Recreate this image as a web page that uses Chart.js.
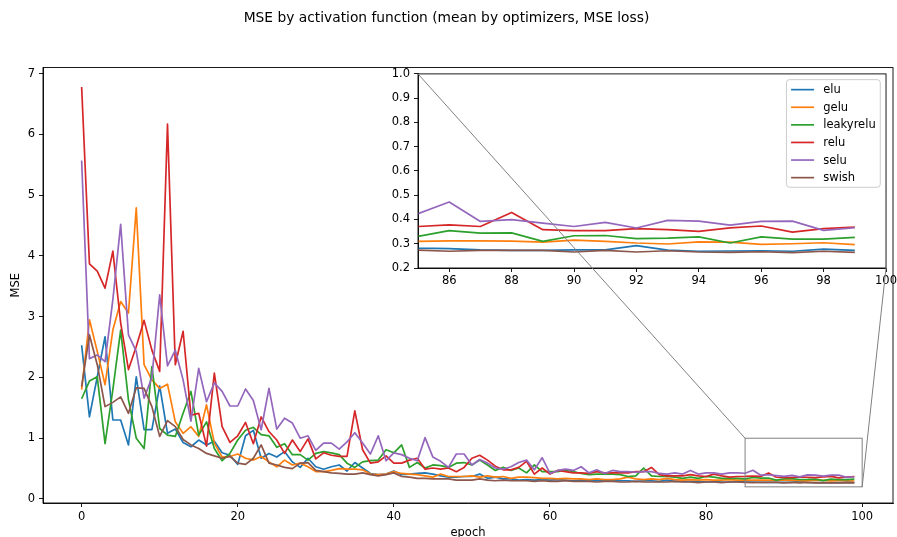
<!DOCTYPE html>
<html>
<head>
<meta charset="utf-8">
<script src="https://cdn.jsdelivr.net/npm/chart.js@4.4.1/dist/chart.umd.min.js"></script>
<style>
  html, body { margin: 0; padding: 0; background: #fff; }
  #wrap { position: relative; width: 897px; height: 537px; overflow: hidden; }
  canvas { position: absolute; }
  #main { left: 0; top: 0; }
  #inset { left: 374px; top: 64px; }
  #overlay { left: 0; top: 0; pointer-events: none; }
</style>
</head>
<body>
<div id="wrap">
  <canvas id="main" width="897" height="537"></canvas>
  <canvas id="inset" width="523" height="230"></canvas>
  <canvas id="overlay" width="897" height="537"></canvas>
</div>
<script>
// Mean MSE per epoch for each activation function (averaged over optimizers)
const epochs = Array.from({ length: 100 }, (_, i) => i);

const names = ['elu', 'gelu', 'leakyrelu', 'relu', 'selu', 'swish'];
const colors = ['#1f77b4', '#ff7f0e', '#2ca02c', '#d62728', '#9467bd', '#8c564b'];

const elu = [
  2.53, 1.35, 2.01, 2.67, 1.30, 1.30, 0.89, 2.01, 1.14, 1.14,
  1.86, 1.08, 1.15, 0.93, 0.86, 0.97, 0.89, 0.95, 0.76, 0.72,
  0.57, 1.04, 1.13, 0.67, 0.75, 0.69, 0.78, 0.61, 0.52, 0.67,
  0.53, 0.49, 0.53, 0.56, 0.46, 0.60, 0.51, 0.42, 0.40, 0.41,
  0.46, 0.40, 0.41, 0.42, 0.43, 0.41, 0.38, 0.36, 0.36, 0.37,
  0.37, 0.41, 0.34, 0.36, 0.33, 0.33, 0.31, 0.32, 0.31, 0.32,
  0.31, 0.32, 0.31, 0.30, 0.31, 0.30, 0.30, 0.31, 0.30, 0.30,
  0.30, 0.29, 0.30, 0.30, 0.29, 0.31, 0.29, 0.29, 0.29, 0.29,
  0.28, 0.29, 0.28, 0.28, 0.29, 0.282, 0.280, 0.275, 0.273, 0.273,
  0.275, 0.275, 0.292, 0.274, 0.269, 0.270, 0.271, 0.269, 0.278, 0.273
];
const gelu = [
  1.80, 2.95, 2.43, 1.88, 2.78, 3.25, 3.06, 4.79, 2.21, 1.96,
  1.82, 1.89, 1.27, 1.08, 1.19, 1.03, 1.55, 0.92, 0.69, 0.70,
  0.74, 0.67, 0.64, 0.70, 0.61, 0.53, 0.64, 0.56, 0.59, 0.53,
  0.45, 0.45, 0.47, 0.50, 0.49, 0.49, 0.48, 0.41, 0.40, 0.41,
  0.45, 0.42, 0.41, 0.40, 0.38, 0.36, 0.41, 0.37, 0.37, 0.37,
  0.38, 0.36, 0.38, 0.36, 0.37, 0.34, 0.36, 0.36, 0.35, 0.34,
  0.34, 0.33, 0.34, 0.33, 0.33, 0.32, 0.33, 0.32, 0.32, 0.33,
  0.36, 0.33, 0.32, 0.33, 0.32, 0.34, 0.32, 0.31, 0.32, 0.31,
  0.32, 0.31, 0.31, 0.32, 0.31, 0.310, 0.312, 0.312, 0.311, 0.307,
  0.315, 0.310, 0.303, 0.299, 0.308, 0.307, 0.297, 0.300, 0.304, 0.296
];
const leakyrelu = [
  1.65, 1.94, 2.01, 0.91, 1.80, 2.78, 1.63, 1.00, 0.83, 2.18,
  1.16, 1.05, 1.03, 1.41, 1.77, 1.05, 1.27, 0.83, 0.63, 0.75,
  0.97, 1.13, 1.18, 1.06, 1.04, 0.85, 0.91, 0.73, 0.73, 0.64,
  0.75, 0.78, 0.76, 0.73, 0.59, 0.52, 0.61, 0.63, 0.64, 0.81,
  0.76, 0.89, 0.52, 0.60, 0.51, 0.56, 0.55, 0.52, 0.59, 0.60,
  0.56, 0.64, 0.56, 0.47, 0.52, 0.47, 0.51, 0.43, 0.56, 0.45,
  0.45, 0.45, 0.48, 0.45, 0.42, 0.40, 0.41, 0.41, 0.41, 0.40,
  0.37, 0.38, 0.51, 0.38, 0.37, 0.37, 0.36, 0.34, 0.36, 0.34,
  0.37, 0.36, 0.34, 0.34, 0.34, 0.330, 0.354, 0.344, 0.345, 0.310,
  0.333, 0.334, 0.321, 0.323, 0.328, 0.303, 0.328, 0.319, 0.319, 0.326
];
const relu = [
  6.78, 3.87, 3.75, 3.47, 4.08, 2.90, 2.13, 2.51, 2.94, 2.45,
  2.10, 6.17, 2.21, 2.76, 1.38, 1.41, 0.87, 2.07, 1.19, 0.93,
  1.04, 1.26, 0.91, 1.35, 1.11, 0.97, 0.75, 0.97, 0.78, 0.99,
  0.66, 0.76, 0.72, 0.70, 0.70, 1.45, 0.81, 0.59, 0.61, 0.71,
  0.59, 0.59, 0.64, 0.67, 0.49, 0.51, 0.49, 0.51, 0.45, 0.52,
  0.67, 0.72, 0.64, 0.54, 0.48, 0.48, 0.52, 0.62, 0.41, 0.51,
  0.41, 0.47, 0.45, 0.43, 0.43, 0.42, 0.45, 0.43, 0.43, 0.43,
  0.43, 0.45, 0.45, 0.52, 0.40, 0.38, 0.38, 0.38, 0.40, 0.38,
  0.37, 0.41, 0.38, 0.36, 0.37, 0.371, 0.378, 0.371, 0.429, 0.358,
  0.354, 0.354, 0.362, 0.358, 0.351, 0.365, 0.373, 0.348, 0.362, 0.369
];
const selu = [
  5.57, 2.31, 2.37, 2.26, 3.28, 4.52, 2.70, 2.43, 1.66, 2.00,
  3.36, 2.19, 2.45, 1.96, 1.28, 2.15, 1.60, 1.91, 1.77, 1.53,
  1.53, 1.81, 1.62, 1.14, 1.82, 1.15, 1.33, 1.25, 1.00, 1.04,
  0.80, 0.92, 0.92, 0.82, 0.94, 1.09, 0.92, 0.74, 1.04, 0.63,
  0.76, 0.73, 0.67, 0.63, 1.01, 0.69, 0.62, 0.52, 0.74, 0.74,
  0.56, 0.65, 0.59, 0.51, 0.49, 0.53, 0.60, 0.64, 0.48, 0.68,
  0.42, 0.47, 0.49, 0.47, 0.53, 0.43, 0.48, 0.42, 0.47, 0.45,
  0.45, 0.44, 0.45, 0.45, 0.42, 0.41, 0.43, 0.41, 0.47, 0.41,
  0.43, 0.43, 0.41, 0.43, 0.43, 0.424, 0.472, 0.392, 0.399, 0.385,
  0.371, 0.388, 0.365, 0.396, 0.393, 0.377, 0.392, 0.393, 0.355, 0.366
];
const swish = [
  1.85, 2.70, 2.21, 1.52, 1.59, 1.68, 1.41, 1.83, 1.82, 1.52,
  1.03, 1.29, 1.19, 0.98, 0.89, 0.83, 0.75, 0.71, 0.67, 0.70,
  0.59, 0.57, 0.67, 0.89, 0.59, 0.56, 0.52, 0.50, 0.59, 0.60,
  0.47, 0.45, 0.43, 0.42, 0.41, 0.41, 0.43, 0.40, 0.38, 0.40,
  0.43, 0.37, 0.36, 0.34, 0.34, 0.33, 0.33, 0.33, 0.31, 0.31,
  0.31, 0.33, 0.31, 0.30, 0.31, 0.30, 0.30, 0.30, 0.29, 0.30,
  0.29, 0.29, 0.30, 0.29, 0.29, 0.29, 0.28, 0.29, 0.29, 0.28,
  0.28, 0.29, 0.28, 0.28, 0.28, 0.28, 0.29, 0.28, 0.28, 0.27,
  0.28, 0.28, 0.27, 0.28, 0.28, 0.274, 0.269, 0.273, 0.273, 0.273,
  0.266, 0.273, 0.266, 0.271, 0.266, 0.264, 0.267, 0.263, 0.269, 0.264
];
const seriesValues = [elu, gelu, leakyrelu, relu, selu, swish];

// Axis ticks
const mainXTicks = [0, 20, 40, 60, 80, 100];
const mainYTicks = [0, 1, 2, 3, 4, 5, 6, 7];
const insetXTicks = [86, 88, 90, 92, 94, 96, 98, 100];
const insetYTicks = [0.2, 0.3, 0.4, 0.5, 0.6, 0.7, 0.8, 0.9, 1.0];
const insetYLabels = ['0.2', '0.3', '0.4', '0.5', '0.6', '0.7', '0.8', '0.9', '1.0'];

// Zoomed window shown in the inset
const zoomX = [85, 100];
const zoomY = [0.2, 1.0];

// Where the inset's plotting area sits on the page
const insetBox = { left: 418, top: 74, right: 886, bottom: 268 };

const FONT = 'DejaVu Sans';
Chart.defaults.font.family = FONT;
Chart.defaults.color = '#000';

function makeDatasets() {
  return names.map((name, i) => ({
    label: name,
    data: epochs.map((e, j) => ({ x: e, y: seriesValues[i][j] })),
    borderColor: colors[i],
    backgroundColor: colors[i],
    borderWidth: 1.7,
    borderJoinStyle: 'round',
    pointRadius: 0,
    tension: 0,
    fill: false,
    order: names.length - i
  }));
}

function axisStyle() {
  return {
    grid: { display: true, drawOnChartArea: false, drawTicks: true, tickLength: 4, color: '#000', lineWidth: 0.9 },
    border: { display: true, color: '#000', width: 0.9 }
  };
}

// Draws the remaining spines around the plotting area
const frame = {
  id: 'frame',
  beforeDraw(chart, args, opts) {
    if (opts.fill) {
      const a = chart.chartArea;
      chart.ctx.save();
      chart.ctx.fillStyle = '#fff';
      chart.ctx.fillRect(a.left, a.top, a.right - a.left, a.bottom - a.top);
      chart.ctx.restore();
    }
  },
  afterDraw(chart) {
    const a = chart.chartArea;
    const ctx = chart.ctx;
    ctx.save();
    ctx.strokeStyle = '#000';
    ctx.lineWidth = 0.9;
    ctx.strokeRect(a.left, a.top, a.right - a.left, a.bottom - a.top);
    ctx.restore();
  }
};

const mainChart = new Chart(document.getElementById('main'), {
  type: 'line',
  data: { datasets: makeDatasets() },
  options: {
    responsive: false,
    maintainAspectRatio: false,
    animation: false,
    devicePixelRatio: 1,
    layout: { padding: { left: 0, right: 4, top: 0, bottom: 0 } },
    plugins: {
      legend: { display: false },
      tooltip: { enabled: false },
      frame: { fill: false },
      title: {
        display: true,
        text: 'MSE by activation function (mean by optimizers, MSE loss)',
        font: { family: FONT, size: 13.8, weight: 'normal' },
        color: '#000',
        padding: { top: 10, bottom: 41 }
      }
    },
    scales: {
      x: Object.assign(axisStyle(), {
        type: 'linear',
        min: -4.95,
        max: 103.95,
        afterBuildTicks: s => { s.ticks = mainXTicks.map(v => ({ value: v })); },
        afterFit: s => { s.height = 34; },
        ticks: { font: { size: 11.5 }, color: '#000', padding: 3, maxRotation: 0, callback: (v, i) => String(mainXTicks[i]) },
        title: { display: true, text: 'epoch', font: { size: 11.5 }, color: '#000', padding: { top: 0, bottom: -3 } }
      }),
      y: Object.assign(axisStyle(), {
        type: 'linear',
        min: -0.066,
        max: 7.1,
        afterBuildTicks: s => { s.ticks = mainYTicks.map(v => ({ value: v })); },
        afterFit: s => { s.width = 43; },
        ticks: { font: { size: 11.5 }, color: '#000', padding: 4, callback: (v, i) => String(mainYTicks[i]) },
        title: { display: true, text: 'MSE', font: { size: 11.5 }, color: '#000', padding: { top: 9, bottom: 0 } }
      })
    }
  },
  plugins: [frame]
});

// Legend drawn inside the inset's upper-right corner
const insetLegend = {
  id: 'insetLegend',
  afterDraw(chart) {
    const ctx = chart.ctx;
    const a = chart.chartArea;
    const fs = 11.5;
    ctx.save();
    ctx.font = fs + 'px "' + FONT + '"';
    const maxW = Math.max(...names.map(n => ctx.measureText(n).width));
    const pad = 0.4 * fs, handle = 2 * fs, gap = 0.8 * fs, rowH = 17.6;
    const w = pad + handle + gap + maxW + pad;
    const h = rowH * names.length + 2;
    const right = a.right - 5.75, top = a.top + 5.75;
    const left = right - w;
    ctx.beginPath();
    if (ctx.roundRect) ctx.roundRect(left, top, w, h, 3); else ctx.rect(left, top, w, h);
    ctx.fillStyle = 'rgba(255,255,255,0.8)';
    ctx.fill();
    ctx.strokeStyle = '#cccccc';
    ctx.lineWidth = 1;
    ctx.stroke();
    ctx.textBaseline = 'middle';
    names.forEach((n, i) => {
      const cy = top + 10 + i * rowH;
      ctx.strokeStyle = colors[i];
      ctx.lineWidth = 1.7;
      ctx.beginPath();
      ctx.moveTo(left + pad, cy);
      ctx.lineTo(left + pad + handle, cy);
      ctx.stroke();
      ctx.fillStyle = '#000';
      ctx.fillText(n, left + pad + handle + gap, cy + 0.5);
    });
    ctx.restore();
  }
};

const insetCanvas = document.getElementById('inset');
const insetChart = new Chart(insetCanvas, {
  type: 'line',
  data: { datasets: makeDatasets() },
  options: {
    responsive: false,
    maintainAspectRatio: false,
    animation: false,
    devicePixelRatio: 1,
    layout: { padding: { left: 0, right: 11, top: 4, bottom: 0 } },
    plugins: {
      legend: { display: false },
      tooltip: { enabled: false },
      title: { display: false },
      frame: { fill: true }
    },
    scales: {
      x: Object.assign(axisStyle(), {
        type: 'linear',
        min: zoomX[0],
        max: zoomX[1],
        afterBuildTicks: s => { s.ticks = insetXTicks.map(v => ({ value: v })); },
        afterFit: s => { s.height = 26; },
        ticks: { font: { size: 11.5 }, color: '#000', padding: 2, maxRotation: 0, callback: (v, i) => String(insetXTicks[i]) }
      }),
      y: Object.assign(axisStyle(), {
        type: 'linear',
        min: zoomY[0],
        max: zoomY[1],
        afterBuildTicks: s => { s.ticks = insetYTicks.map(v => ({ value: v })); },
        afterFit: s => { s.width = 44; },
        ticks: { font: { size: 11.5 }, color: '#000', padding: 4, callback: (v, i) => insetYLabels[i] }
      })
    }
  },
  plugins: [frame, insetLegend]
});

// Size and place the inset canvas so its plotting area fills insetBox
(function placeInset() {
  let ca = insetChart.chartArea;
  const w = insetChart.width + (insetBox.right - insetBox.left) - (ca.right - ca.left);
  const h = insetChart.height + (insetBox.bottom - insetBox.top) - (ca.bottom - ca.top);
  insetChart.resize(Math.round(w), Math.round(h));
  ca = insetChart.chartArea;
  insetCanvas.style.left = Math.round(insetBox.left - ca.left) + 'px';
  insetCanvas.style.top = Math.round(insetBox.top - ca.top) + 'px';
})();

// Zoom box on the main axes and the connector lines to the inset
(function drawZoomIndicator() {
  const ctx = document.getElementById('overlay').getContext('2d');
  const ox = insetCanvas.offsetLeft, oy = insetCanvas.offsetTop;
  const sx = mainChart.scales.x, sy = mainChart.scales.y;
  const x0 = sx.getPixelForValue(zoomX[0]), x1 = sx.getPixelForValue(zoomX[1]);
  const y0 = sy.getPixelForValue(zoomY[1]), y1 = sy.getPixelForValue(zoomY[0]);
  const ia = insetChart.chartArea;
  ctx.strokeStyle = '#808080';
  ctx.lineWidth = 1;
  ctx.strokeRect(x0, y0, x1 - x0, y1 - y0);
  ctx.beginPath();
  ctx.moveTo(x0, y0);
  ctx.lineTo(ox + ia.left, oy + ia.top);
  ctx.moveTo(x1, y1);
  ctx.lineTo(ox + ia.right, oy + ia.bottom);
  ctx.stroke();
})();
</script>
</body>
</html>
